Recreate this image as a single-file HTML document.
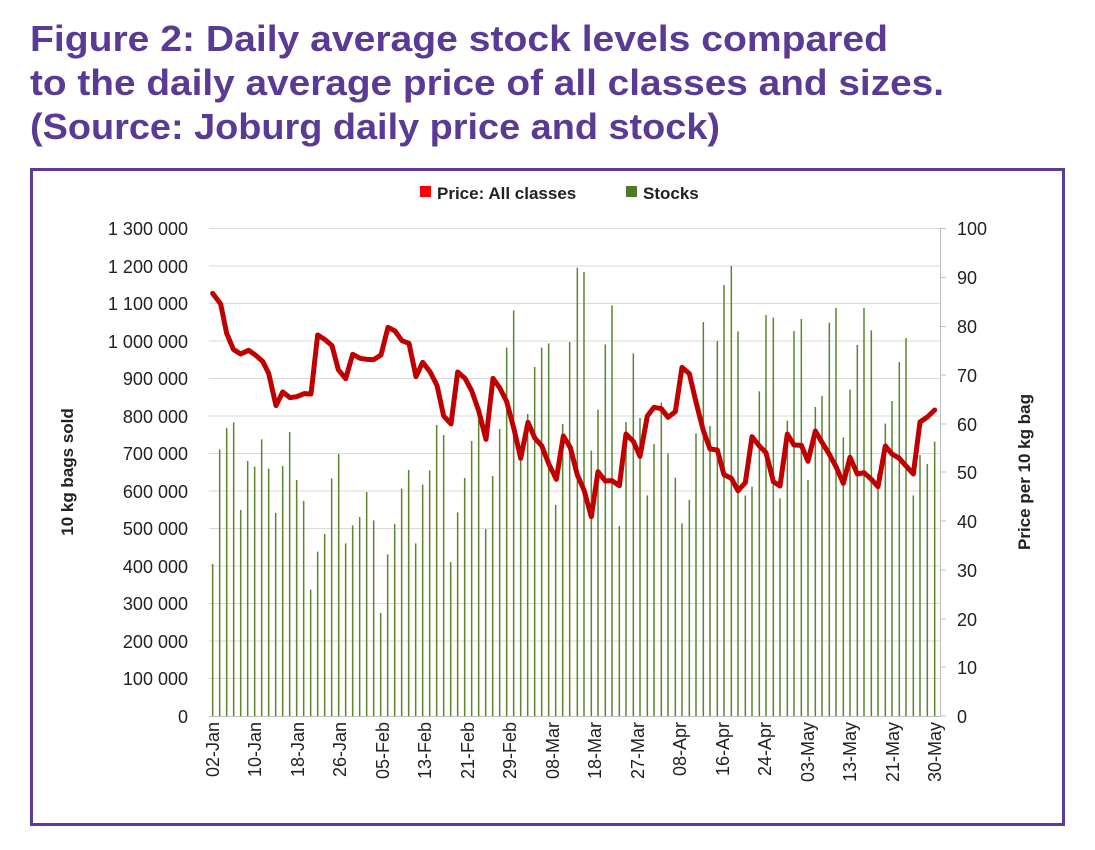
<!DOCTYPE html>
<html><head><meta charset="utf-8"><style>
html,body{margin:0;padding:0;background:#fff;}
svg{display:block;font-family:"Liberation Sans",sans-serif;}
</style></head><body>
<svg width="1095" height="850" viewBox="0 0 1095 850" xmlns="http://www.w3.org/2000/svg">
<g fill="#5b3a95" font-weight="bold" font-size="36">
<text x="30" y="51" textLength="858" lengthAdjust="spacingAndGlyphs">Figure 2: Daily average stock levels compared</text>
<text x="30" y="95" textLength="914" lengthAdjust="spacingAndGlyphs">to the daily average price of all classes and sizes.</text>
<text x="30" y="139" textLength="690" lengthAdjust="spacingAndGlyphs">(Source: Joburg daily price and stock)</text>
</g>
<rect x="31.5" y="169.5" width="1032" height="655" fill="none" stroke="#5e3a9a" stroke-width="3"/>
<!-- legend -->
<rect x="420" y="186" width="11" height="11" fill="#ff0000"/>
<text x="437" y="199" font-size="17" font-weight="bold" fill="#222">Price: All classes</text>
<rect x="626" y="186" width="11" height="11" fill="#4f7a28"/>
<text x="643" y="199" font-size="17" font-weight="bold" fill="#222">Stocks</text>
<!-- grid -->
<g stroke="#d9d9d9" stroke-width="1">
<line x1="209" x2="940" y1="228.5" y2="228.5"/><line x1="209" x2="940" y1="266" y2="266"/>
<line x1="209" x2="940" y1="303.5" y2="303.5"/><line x1="209" x2="940" y1="341" y2="341"/>
<line x1="209" x2="940" y1="378.5" y2="378.5"/><line x1="209" x2="940" y1="416" y2="416"/>
<line x1="209" x2="940" y1="453.5" y2="453.5"/><line x1="209" x2="940" y1="491" y2="491"/>
<line x1="209" x2="940" y1="528.5" y2="528.5"/><line x1="209" x2="940" y1="566" y2="566"/>
<line x1="209" x2="940" y1="603.5" y2="603.5"/><line x1="209" x2="940" y1="641" y2="641"/>
<line x1="209" x2="940" y1="678.5" y2="678.5"/>
</g>
<g stroke="#bfbfbf" stroke-width="1">
<line x1="209" x2="940" y1="716.5" y2="716.5"/>
<line x1="940.5" x2="940.5" y1="228" y2="716"/>
<line x1="940" x2="946" y1="228.5" y2="228.5"/><line x1="940" x2="946" y1="277.5" y2="277.5"/>
<line x1="940" x2="946" y1="326.5" y2="326.5"/><line x1="940" x2="946" y1="375" y2="375"/>
<line x1="940" x2="946" y1="424" y2="424"/><line x1="940" x2="946" y1="472" y2="472"/>
<line x1="940" x2="946" y1="521" y2="521"/><line x1="940" x2="946" y1="570" y2="570"/>
<line x1="940" x2="946" y1="619" y2="619"/><line x1="940" x2="946" y1="667" y2="667"/>
<line x1="940" x2="946" y1="716" y2="716"/>
</g>
<!-- bars zoom1 coords -->
<g transform="translate(200,220) scale(0.33333)" stroke="#5a862f" stroke-width="4.5">
<path d="M38 1488V1032M59 1488V688M80 1488V624M101 1488V607M122 1488V870M143 1488V723M164 1488V740M185 1488V658M206 1488V746M227 1488V879M248 1488V738M269 1488V636M290 1488V780M311 1488V843M332 1488V1109M353 1488V995M374 1488V942M395 1488V775M416 1488V702M437 1488V970M458 1488V916M479 1488V891M500 1488V816M521 1488V901M542 1488V1179M563 1488V1003M584 1488V912M605 1488V806M626 1488V750M647 1488V970M668 1488V794M689 1488V751M710 1488V615M731 1488V645M752 1488V1026M773 1488V877M794 1488V774M815 1488V663M836 1488V600M857 1488V927M878 1488V768M899 1488V627M920 1488V383M941 1488V271M962 1488V720M983 1488V582M1004 1488V441M1025 1488V383M1046 1488V370M1067 1488V855M1088 1488V612M1109 1488V366"/>
</g>
<g transform="translate(570,220) scale(0.33333)" stroke="#5a862f" stroke-width="4.5">
<path d="M22 1488V143M42 1488V156M64 1488V692M84 1488V569M106 1488V373M126 1488V256M148 1488V918M168 1488V606M190 1488V400M210 1488V594M232 1488V826M252 1488V672M274 1488V548M294 1488V700M316 1488V773M336 1488V910M358 1488V840M378 1488V640M400 1488V306M420 1488V618M442 1488V363M462 1488V195M484 1488V138M504 1488V334M526 1488V826M546 1488V800M568 1488V514M588 1488V285M610 1488V293M630 1488V835M652 1488V602M672 1488V333M694 1488V297M714 1488V780M736 1488V561M756 1488V528M778 1488V308M798 1488V264M820 1488V652M840 1488V509M862 1488V375M882 1488V264M904 1488V331M924 1488V760M946 1488V611M966 1488V543M988 1488V426M1008 1488V354M1030 1488V826M1050 1488V705M1072 1488V732M1094 1488V665"/>
</g>
<!-- price line -->
<g fill="none" stroke="#c00000" stroke-width="15" stroke-linejoin="round" stroke-linecap="round">
<polyline transform="translate(200,220) scale(0.33333)" points="38,220 62,252 80,340 100,388 122,402 146,391 166,405 188,424 206,460 228,557 248,516 270,533 290,530 312,521 333,522 353,345 374,358 396,377 415,449 437,476 458,403 480,415 500,418 521,419 543,405 564,322 585,333 606,362 627,370 648,470 668,427 690,455 711,496 731,588 753,612 773,456 795,475 815,512 836,572 858,658 879,475 900,505 920,545 942,627 962,715 984,607 1005,655 1025,677 1047,733 1069,778 1090,648 1111,683"/>
<polyline transform="translate(570,220) scale(0.33333)" points="1,683 22,765 42,810 64,890 84,755 106,783 126,782 148,797 168,642 190,664 210,709 232,588 252,562 274,566 294,592 316,575 336,442 358,461 378,546 400,632 420,687 442,690 462,764 484,775 504,812 526,788 546,650 568,678 588,698 610,785 630,798 652,642 672,675 694,676 714,724 736,633 756,667 778,703 798,740 820,790 840,712 862,762 882,758 904,778 924,800 946,678 966,702 988,715 1008,738 1030,762 1050,606 1072,591 1094,570"/>
</g>
<!-- left axis labels -->
<g font-size="18" fill="#222" text-anchor="end">
<text x="188" y="235">1 300 000</text><text x="188" y="273">1 200 000</text>
<text x="188" y="310">1 100 000</text><text x="188" y="348">1 000 000</text>
<text x="188" y="385">900 000</text><text x="188" y="423">800 000</text>
<text x="188" y="460">700 000</text><text x="188" y="498">600 000</text>
<text x="188" y="535">500 000</text><text x="188" y="573">400 000</text>
<text x="188" y="610">300 000</text><text x="188" y="648">200 000</text>
<text x="188" y="685">100 000</text><text x="188" y="723">0</text>
</g>
<g font-size="18" fill="#222">
<text x="957" y="235">100</text><text x="957" y="284">90</text>
<text x="957" y="333">80</text><text x="957" y="382">70</text>
<text x="957" y="431">60</text><text x="957" y="479">50</text>
<text x="957" y="528">40</text><text x="957" y="577">30</text>
<text x="957" y="626">20</text><text x="957" y="674">10</text>
<text x="957" y="723">0</text>
</g>
<text transform="translate(73,472) rotate(-90)" text-anchor="middle" font-size="17" font-weight="bold" fill="#222">10 kg bags sold</text>
<text transform="translate(1030,472) rotate(-90)" text-anchor="middle" font-size="17" font-weight="bold" fill="#222">Price per 10 kg bag</text>
<!-- x labels -->
<g font-size="18" fill="#222" text-anchor="end">
<text transform="translate(219,722) rotate(-90)">02-Jan</text>
<text transform="translate(261,722) rotate(-90)">10-Jan</text>
<text transform="translate(304,722) rotate(-90)">18-Jan</text>
<text transform="translate(346,722) rotate(-90)">26-Jan</text>
<text transform="translate(389,722) rotate(-90)">05-Feb</text>
<text transform="translate(431,722) rotate(-90)">13-Feb</text>
<text transform="translate(474,722) rotate(-90)">21-Feb</text>
<text transform="translate(516,722) rotate(-90)">29-Feb</text>
<text transform="translate(559,722) rotate(-90)">08-Mar</text>
<text transform="translate(601,722) rotate(-90)">18-Mar</text>
<text transform="translate(644,722) rotate(-90)">27-Mar</text>
<text transform="translate(686,722) rotate(-90)">08-Apr</text>
<text transform="translate(729,722) rotate(-90)">16-Apr</text>
<text transform="translate(771,722) rotate(-90)">24-Apr</text>
<text transform="translate(814,722) rotate(-90)">03-May</text>
<text transform="translate(856,722) rotate(-90)">13-May</text>
<text transform="translate(899,722) rotate(-90)">21-May</text>
<text transform="translate(941,722) rotate(-90)">30-May</text>
</g>
</svg>
</body></html>
